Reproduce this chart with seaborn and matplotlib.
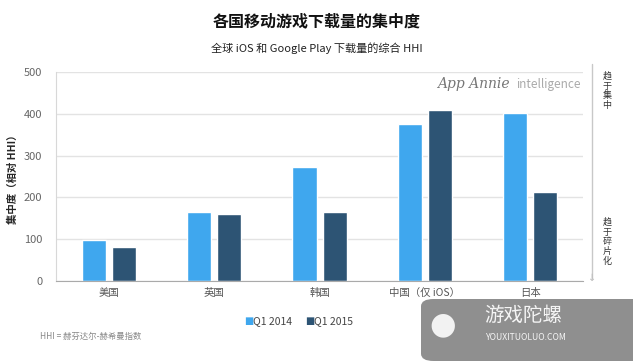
import matplotlib
matplotlib.use("Agg")
import matplotlib.pyplot as plt
from matplotlib.patches import FancyBboxPatch
import pandas as pd
import seaborn as sns

countries = ["美国", "英国", "韩国", "中国（仅 iOS）", "日本"]
q1_2014 = [99, 165, 273, 376, 402]
q1_2015 = [82, 160, 165, 409, 213]
series_names = ["Q1 2014", "Q1 2015"]
yticks = [0, 100, 200, 300, 400, 500]

sns.set_style("white")
plt.rcParams["font.family"] = ["Noto Sans CJK SC", "DejaVu Sans"]

df = pd.DataFrame({
    "country": countries * 2,
    "series": [series_names[0]] * len(countries) + [series_names[1]] * len(countries),
    "hhi": q1_2014 + q1_2015,
})

fig = plt.figure(figsize=(6.33, 3.61), dpi=100)
ax = fig.add_axes([0.0885, 0.2216, 0.8325, 0.579])

palette = {"Q1 2014": "#3fa7ee", "Q1 2015": "#2d5474"}
sns.barplot(data=df, x="country", y="hhi", hue="series", palette=palette,
            width=0.57, gap=0.2, ax=ax, legend=False, saturation=1)

ax.set_xlim(-0.5, 4.5)
ax.set_ylim(0, 500)
ax.set_yticks(yticks)
ax.yaxis.grid(True, color="#e3e3e3", linewidth=1)
ax.set_axisbelow(True)
for s in ["top", "right"]:
    ax.spines[s].set_visible(False)
ax.spines["left"].set_color("#d8d8d8")
ax.spines["bottom"].set_color("#aaaaaa")
ax.tick_params(axis="y", labelsize=8, colors="#666666", length=0, pad=10)
ax.tick_params(axis="x", labelsize=7.5, colors="#555555", length=0, pad=5)
ax.set_xlabel("")
ax.set_ylabel("集中度（相对 HHI）", fontsize=7.5, fontweight="bold")
ax.yaxis.set_label_coords(-0.072, 0.5)

fig.text(0.5, 0.94, "各国移动游戏下载量的集中度", ha="center", va="center",
         fontsize=11.5, fontweight="bold", color="#111111")
fig.text(0.5, 0.866, "全球 iOS 和 Google Play 下载量的综合 HHI", ha="center",
         va="center", fontsize=8, color="#222222")

# App Annie mark
ax.text(0.86, 0.975, "App Annie", transform=ax.transAxes, ha="right", va="top",
        fontsize=10, style="italic", color="#777777", family="DejaVu Serif")
ax.text(0.995, 0.97, "intelligence", transform=ax.transAxes, ha="right", va="top",
        fontsize=8.5, color="#aaaaaa")

# legend
ly = 1 - 321 / 361
for lx, name in [(0.385, series_names[0]), (0.482, series_names[1])]:
    fig.text(lx, ly, "■", color=palette[name], fontsize=7, ha="left", va="center",
             family="DejaVu Sans")
    fig.text(lx + 0.014, ly, name, fontsize=7.5, color="#444444", ha="left", va="center")

fig.text(0.063, 1 - 336 / 361, "HHI = 赫芬达尔-赫希曼指数", fontsize=6, style="italic",
         color="#888888", ha="left", va="center")

# right arrow and labels
fig.add_artist(plt.Line2D([592 / 633, 592 / 633], [1 - 64 / 361, 1 - 278 / 361],
                          color="#c8c8c8", linewidth=1))
fig.text(592 / 633, 1 - 283 / 361, "↓", ha="center", va="bottom", fontsize=7,
         color="#bbbbbb", family="DejaVu Sans")
fig.text(607 / 633, 1 - 91 / 361, "\n".join("趋于集中"), ha="center", va="center",
         fontsize=6.5, color="#333333", linespacing=1.08)
fig.text(607 / 633, 1 - 242 / 361, "\n".join("趋于碎片化"), ha="center", va="center",
         fontsize=6.5, color="#333333", linespacing=1.08)

# watermark
box = FancyBboxPatch((421 / 633, 0.0), 0.4, 62 / 361, boxstyle="round,pad=0,rounding_size=0.02",
                     transform=fig.transFigure, facecolor="#838383", edgecolor="none",
                     alpha=0.9, zorder=10)
fig.add_artist(box)
fig.text(443 / 633, 1 - 325 / 361, "●", ha="center", va="center", fontsize=22,
         color="#f2f2f2", zorder=11, family="DejaVu Sans")
fig.text(484 / 633, 1 - 315 / 361, "游戏陀螺", ha="left", va="center", fontsize=14,
         color="#f5f5f5", zorder=11)
fig.text(485 / 633, 1 - 338 / 361, "YOUXITUOLUO.COM", ha="left", va="center",
         fontsize=6.2, color="#f5f5f5", zorder=11)

fig.savefig("out.png", dpi=100)
